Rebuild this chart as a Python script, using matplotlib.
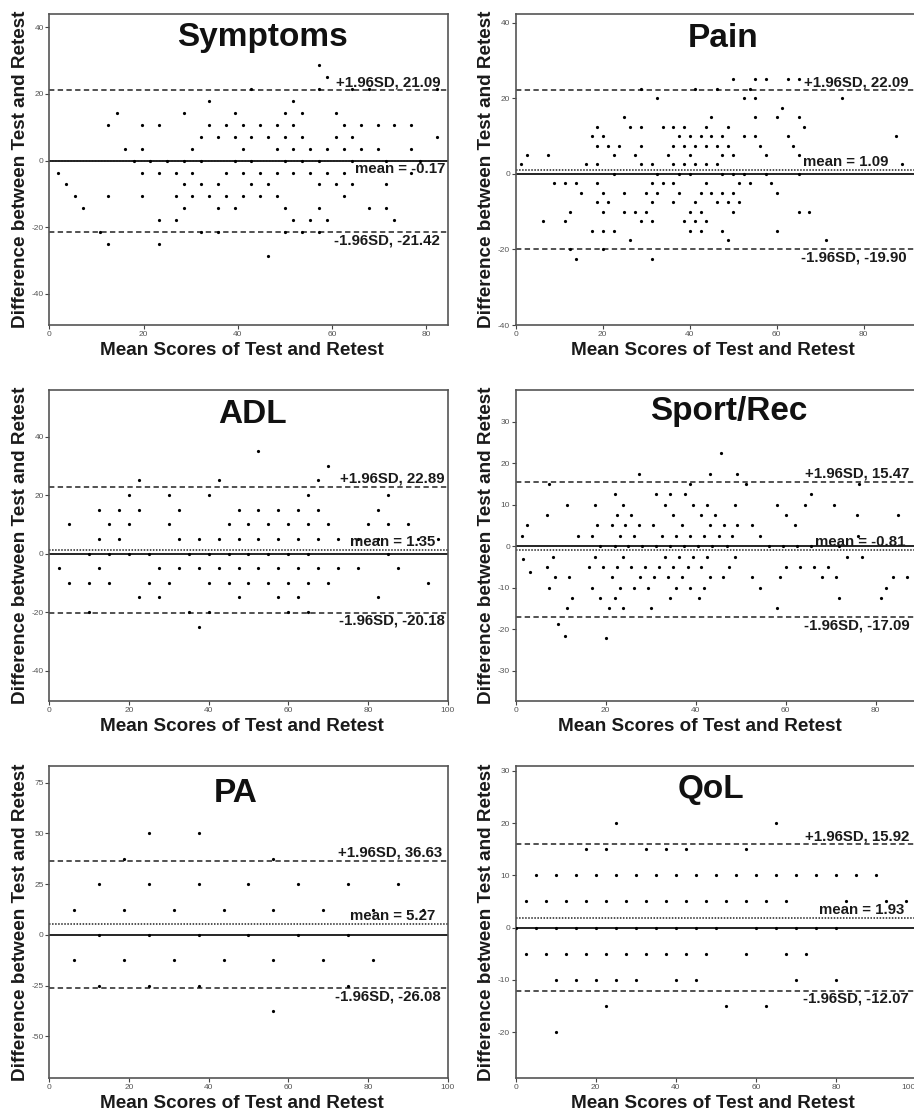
import matplotlib.pyplot as plt

plt.rcParams['font.family'] = ['Liberation Sans', 'DejaVu Sans']
plt.rcParams['axes.unicode_minus'] = False

# difference between test and retest -> mean scores of the points on that row
symptoms = {
    28.57: [57.14],
    25.0: [58.93],
    21.43: [42.86, 57.14, 64.29, 67.86, 82.14],
    17.86: [33.93, 51.79],
    14.29: [14.29, 28.57, 39.29, 50.0, 53.57, 60.71],
    10.71: [12.5, 19.64, 23.21, 33.93, 37.5, 41.07, 44.64, 48.21, 51.79, 62.5, 66.07, 69.64, 73.21, 76.79],
    7.14: [32.14, 35.71, 39.29, 42.86, 46.43, 50.0, 53.57, 60.71, 64.29, 82.14],
    3.57: [16.07, 19.64, 30.36, 41.07, 48.21, 51.79, 55.36, 58.93, 62.5, 66.07, 69.64, 76.79],
    0.0: [17.86, 21.43, 25.0, 28.57, 32.14, 39.29, 42.86, 50.0, 53.57, 57.14, 64.29, 71.43, 78.57],
    -3.57: [1.79, 19.64, 23.21, 26.79, 30.36, 37.5, 41.07, 44.64, 48.21, 51.79, 55.36, 58.93, 62.5, 76.79],
    -7.14: [3.57, 28.57, 32.14, 35.71, 42.86, 46.43, 57.14, 60.71, 64.29, 71.43],
    -10.71: [5.36, 12.5, 19.64, 26.79, 30.36, 33.93, 37.5, 41.07, 44.64, 48.21, 62.5],
    -14.29: [7.14, 28.57, 35.71, 39.29, 50.0, 57.14, 67.86, 71.43],
    -17.86: [23.21, 26.79, 51.79, 55.36, 58.93, 73.21],
    -21.43: [10.71, 32.14, 35.71, 50.0, 53.57, 57.14],
    -25.0: [12.5, 23.21],
    -28.57: [46.43],
}

pain = {
    25.0: [50.0, 55.0, 57.5, 62.5, 65.0],
    22.5: [28.75, 41.25, 46.25, 53.75],
    20.0: [32.5, 52.5, 55.0, 75.0],
    17.5: [61.25],
    15.0: [25.0, 45.0, 55.0, 60.0, 65.0],
    12.5: [18.75, 26.25, 28.75, 33.75, 36.25, 38.75, 43.75, 48.75, 66.25],
    10.0: [17.5, 20.0, 37.5, 40.0, 42.5, 45.0, 47.5, 52.5, 55.0, 62.5, 87.5],
    7.5: [18.75, 21.25, 23.75, 28.75, 36.25, 38.75, 41.25, 43.75, 46.25, 48.75, 56.25, 63.75],
    5.0: [2.5, 7.5, 22.5, 27.5, 35.0, 40.0, 47.5, 50.0, 57.5, 65.0],
    2.5: [1.25, 16.25, 18.75, 28.75, 31.25, 36.25, 38.75, 41.25, 43.75, 46.25, 88.75],
    0.0: [22.5, 32.5, 37.5, 40.0, 47.5, 50.0, 52.5, 57.5, 65.0],
    -2.5: [8.75, 11.25, 13.75, 18.75, 31.25, 33.75, 36.25, 43.75, 51.25, 53.75, 58.75],
    -5.0: [15.0, 20.0, 25.0, 30.0, 32.5, 37.5, 42.5, 45.0, 47.5, 50.0, 60.0],
    -7.5: [18.75, 21.25, 31.25, 36.25, 41.25, 46.25, 48.75, 51.25],
    -10.0: [12.5, 20.0, 25.0, 27.5, 30.0, 40.0, 42.5, 50.0, 65.0, 67.5],
    -12.5: [6.25, 11.25, 28.75, 31.25, 38.75, 41.25, 43.75],
    -15.0: [17.5, 20.0, 22.5, 40.0, 42.5, 47.5, 60.0],
    -17.5: [26.25, 48.75, 71.25],
    -20.0: [12.5, 20.0],
    -22.5: [13.75, 31.25],
}

adl = {
    35.0: [52.5],
    30.0: [70.0],
    25.0: [22.5, 42.5, 67.5],
    20.0: [20.0, 30.0, 40.0, 65.0, 85.0],
    15.0: [12.5, 17.5, 22.5, 32.5, 47.5, 52.5, 57.5, 62.5, 67.5, 82.5],
    10.0: [5.0, 15.0, 20.0, 30.0, 45.0, 50.0, 55.0, 60.0, 65.0, 70.0, 80.0, 85.0, 90.0],
    5.0: [12.5, 17.5, 32.5, 37.5, 42.5, 47.5, 52.5, 57.5, 62.5, 67.5, 72.5, 77.5, 82.5, 92.5, 97.5],
    0.0: [10.0, 15.0, 20.0, 25.0, 35.0, 40.0, 45.0, 50.0, 55.0, 60.0, 65.0, 85.0],
    -5.0: [2.5, 12.5, 27.5, 32.5, 37.5, 42.5, 47.5, 52.5, 57.5, 62.5, 67.5, 72.5, 77.5, 87.5],
    -10.0: [5.0, 10.0, 15.0, 25.0, 30.0, 40.0, 45.0, 50.0, 55.0, 60.0, 65.0, 70.0, 95.0],
    -15.0: [22.5, 27.5, 47.5, 57.5, 62.5, 82.5],
    -20.0: [10.0, 35.0, 40.0, 60.0, 65.0],
    -25.0: [37.5],
}

sport = {
    22.5: [45.6],
    17.5: [27.5, 43.1, 49.3],
    15.0: [7.5, 38.75, 51.3, 76.3],
    12.5: [22.0, 31.2, 34.4, 37.6, 65.7],
    10.0: [11.4, 17.6, 23.9, 33.1, 39.4, 42.5, 48.8, 58.0, 64.4, 70.7],
    7.5: [6.9, 22.5, 25.7, 35.0, 41.1, 44.3, 60.1, 75.8, 85.0],
    5.0: [2.5, 18.1, 21.3, 24.4, 27.5, 30.6, 36.9, 43.1, 46.4, 49.3, 52.5, 62.0],
    2.5: [1.3, 13.8, 17.0, 23.1, 26.3, 32.6, 35.7, 38.8, 41.9, 45.1, 48.2, 54.4, 76.1],
    0.0: [18.8, 22.0, 25.0, 28.1, 31.2, 34.4, 37.4, 40.6, 43.7, 46.9, 56.4, 59.5, 62.5, 65.7, 71.9],
    -2.5: [8.2, 17.6, 23.9, 33.2, 36.3, 39.4, 42.5, 48.8, 73.7, 76.9],
    -3.0: [1.6],
    -5.0: [6.9, 16.4, 19.4, 22.5, 25.7, 28.8, 31.9, 35.0, 38.2, 41.3, 47.5, 60.0, 63.1, 66.3, 69.4],
    -6.25: [3.2],
    -7.5: [8.8, 11.9, 21.3, 27.6, 30.7, 33.8, 36.9, 43.1, 46.2, 52.5, 58.8, 68.2, 71.3, 83.8, 86.9],
    -10.0: [7.5, 16.9, 23.1, 26.3, 29.5, 35.7, 38.8, 41.9, 54.4, 82.4],
    -12.5: [12.6, 18.8, 22.0, 34.4, 40.8, 71.9, 81.3],
    -15.0: [11.4, 20.7, 23.9, 30.0, 58.0],
    -18.75: [9.5],
    -21.6: [11.0],
    -22.2: [20.1],
}

pa = {
    50.0: [25.0, 37.5],
    37.5: [18.75, 56.25],
    25.0: [12.5, 25.0, 37.5, 50.0, 62.5, 75.0, 87.5],
    12.5: [6.25, 18.75, 31.25, 43.75, 56.25, 68.75, 81.25, 93.75],
    0.0: [12.5, 25.0, 37.5, 50.0, 62.5, 75.0],
    -12.5: [6.25, 18.75, 31.25, 43.75, 56.25, 68.75, 81.25],
    -25.0: [12.5, 25.0, 37.5, 75.0],
    -37.5: [56.25],
}

qol = {
    20.0: [25.0, 65.0],
    15.0: [17.5, 22.5, 32.5, 37.5, 42.5, 57.5],
    10.0: [5.0, 10.0, 15.0, 20.0, 25.0, 30.0, 35.0, 40.0, 45.0, 50.0, 55.0, 60.0,
           65.0, 70.0, 75.0, 80.0, 85.0, 90.0],
    5.0: [2.5, 7.5, 12.5, 17.5, 22.5, 27.5, 32.5, 37.5, 42.5, 47.5, 52.5, 57.5,
          62.5, 67.5, 82.5, 92.5, 97.5],
    0.0: [0.0, 5.0, 10.0, 15.0, 20.0, 25.0, 30.0, 35.0, 40.0, 45.0, 50.0, 60.0,
          65.0, 70.0, 75.0, 80.0],
    -5.0: [2.5, 7.5, 12.5, 17.5, 22.5, 27.5, 32.5, 37.5, 42.5, 47.5, 57.5, 67.5, 72.5],
    -10.0: [10.0, 15.0, 20.0, 25.0, 30.0, 40.0, 45.0, 70.0, 80.0],
    -15.0: [22.5, 52.5, 62.5],
    -20.0: [10.0],
}

titles = ["Symptoms", "Pain", "ADL", "Sport/Rec", "PA", "QoL"]
panels = [symptoms, pain, adl, sport, pa, qol]
means = [-0.17, 1.09, 1.35, -0.81, 5.27, 1.93]
uppers = [21.09, 22.09, 22.89, 15.47, 36.63, 15.92]
lowers = [-21.42, -19.90, -20.18, -17.09, -26.08, -12.07]

xlims = [(0, 84.5), (0, 92), (0, 100), (0, 89), (0, 100), (0, 100)]
ylims = [(-49.3, 44), (-40, 42.3), (-50.4, 56), (-37.3, 37.7), (-70.5, 83.4), (-28.8, 31)]
yticks = [[-40, -20, 0, 20, 40], [-40, -20, 0, 20, 40], [-40, -20, 0, 20, 40],
          [-30, -20, -10, 0, 10, 20, 30], [-50, -25, 0, 25, 50, 75],
          [-20, -10, 0, 10, 20, 30]]
xticks = [[0, 20, 40, 60, 80], [0, 20, 40, 60, 80], [0, 20, 40, 60, 80, 100],
          [0, 20, 40, 60, 80], [0, 20, 40, 60, 80, 100], [0, 20, 40, 60, 80, 100]]

# layout (figure pixels -> fractions)
W, H = 914, 1114
col_x = [(49.3, 398.4), (515.7, 400.3)]
row_y = [(14, 325), (389.7, 701), (765.7, 1078)]
title_pos = [(0.536, 0.924), (0.518, 0.922), (0.511, 0.919),
             (0.533, 0.929), (0.467, 0.911), (0.488, 0.925)]
xlabel_x = [0.483, 0.492, 0.483, 0.46, 0.483, 0.493]
# right edge of the three line labels (upper, mean, lower)
label_x = [(0.981, 0.993, 0.981), (0.981, 0.931, 0.976), (0.993, 0.968, 0.992),
           (0.983, 0.973, 0.984), (0.985, 0.968, 0.982), (0.983, 0.97, 0.983)]
mean_side = [-1, 1, 1, 1, 1, 1]

fig = plt.figure(figsize=(W / 100, H / 100), dpi=100)

for i in range(6):
    r, c = i // 2, i % 2
    left, width = col_x[c]
    top, bottom = row_y[r]
    ax = fig.add_axes([left / W, 1 - bottom / H, width / W, (bottom - top) / H])

    xs, ys = [], []
    for d, row in panels[i].items():
        for m in row:
            xs.append(m)
            ys.append(d)
    ax.plot(xs, ys, 'o', color='black', ms=2.3, mew=0, zorder=3)

    ax.axhline(0, color='black', lw=1.2, zorder=2)
    ax.axhline(means[i], color='#222222', lw=1.1, dashes=(1, 1), zorder=2)
    ax.axhline(uppers[i], color='#222222', lw=1.1, dashes=(3.5, 2.2), zorder=2)
    ax.axhline(lowers[i], color='#222222', lw=1.1, dashes=(3.5, 2.2), zorder=2)

    tr = ax.get_yaxis_transform()
    lx = label_x[i]
    kw = dict(xycoords=tr, textcoords='offset points', ha='right', va='center',
              fontsize=10.8, fontweight='bold', color='#1a1a1a', zorder=4)
    ax.annotate(f"+1.96SD, {uppers[i]:.2f}", (lx[0], uppers[i]), xytext=(0, 6), **kw)
    ax.annotate(f"mean = {means[i]:.2f}", (lx[1], means[i]),
                xytext=(0, 5.6 * mean_side[i]), **kw)
    ax.annotate(f"-1.96SD, {lowers[i]:.2f}", (lx[2], lowers[i]), xytext=(0, -6), **kw)

    ax.text(title_pos[i][0], title_pos[i][1], titles[i], transform=ax.transAxes,
            ha='center', va='center', fontsize=24, fontweight='bold', color='#111111')

    ax.set_xlim(*xlims[i])
    ax.set_ylim(*ylims[i])
    ax.set_xticks(xticks[i])
    ax.set_yticks(yticks[i])
    ax.tick_params(direction='out', length=3, width=0.8, pad=1, labelsize=6,
                   color='#444444', labelcolor='#555555')
    for sp in ax.spines.values():
        sp.set_color('#555555')
        sp.set_linewidth(1.2)

    # the last tick of a panel touching the figure edge is pulled inside
    if c == 1 and xticks[i][-1] >= xlims[i][1]:
        ax.get_xticklabels()[-1].set_horizontalalignment('right')

    ax.set_xlabel("Mean Scores of Test and Retest", fontsize=13.6, fontweight='bold',
                  va='center', color='#1a1a1a')
    ax.xaxis.set_label_coords(xlabel_x[i], -0.083)
    ax.set_ylabel("Difference between Test and Retest", fontsize=13.6, fontweight='bold',
                  va='center', color='#1a1a1a')
    ax.yaxis.set_label_coords(-0.072, 0.5)

fig.savefig('out.png', dpi=100)
